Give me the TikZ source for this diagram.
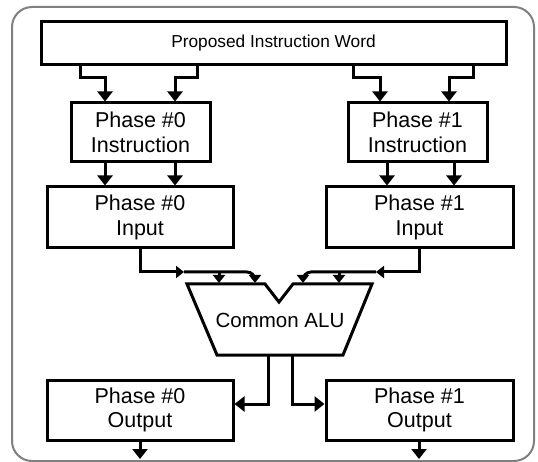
\documentclass[tikz,border=0pt]{standalone}
\usepackage{fontspec}
\setmainfont{Liberation Sans}
\usetikzlibrary{arrows.meta}
\tikzset{
  box/.style={draw=black, line width=3pt, fill=white, align=center, inner sep=0pt,
    font=\fontsize{21.5pt}{24.5pt}\selectfont},
  wire/.style={draw=black, line width=3pt},
  bigarr/.style={wire, -{Triangle[length=10pt,width=15pt]}},
  smallarr/.style={wire, -{Triangle[length=8pt,width=12pt]}},
  frame/.style={draw=black!50, line width=2pt, rounded corners=20pt}
}
\begin{document}
\begin{tikzpicture}[x=1pt,y=-1pt]
\useasboundingbox (0,0) rectangle (538,462);
\draw[frame] (12,7) rectangle (534,461);

% boxes
\node[box, minimum width=465pt, minimum height=43pt, font=\fontsize{17.3pt}{20pt}\selectfont] (top) at (273.5,43.5) {Proposed Instruction Word};
\node[box, minimum width=139pt, minimum height=59pt] (i0) at (140.5,132.5) {Phase \#0\\Instruction};
\node[box, minimum width=139pt, minimum height=59pt] (i1) at (417.5,132.5) {Phase \#1\\Instruction};
\node[box, minimum width=186pt, minimum height=61pt] (n0) at (140,217.5) {Phase \#0\\Input};
\node[box, minimum width=187pt, minimum height=61pt] (n1) at (419.5,217.5) {Phase \#1\\Input};
\node[box, minimum width=186pt, minimum height=60pt] (o0) at (140,410) {Phase \#0\\Output};
\node[box, minimum width=187pt, minimum height=60pt] (o1) at (419.5,410) {Phase \#1\\Output};

% ALU
\draw[wire, line join=miter] (187,284) -- (265,284) -- (279,302) -- (293,284) -- (372,284) -- (343,355) -- (217,355) -- cycle;
\node[font=\fontsize{20.5pt}{24pt}\selectfont, inner sep=0pt] (alu) at (280,320) {Common ALU};

% named junctions
\coordinate (aluL) at (268,355);
\coordinate (aluR) at (292,355);
\coordinate (jl) at (184,272);
\coordinate (jr) at (376,272);

% top to instruction boxes
\draw[bigarr] (80,0 |- top.south) |- (105,78) -- (105,0 |- i0.north);
\draw[bigarr] (197,0 |- top.south) |- (175,78) -- (175,0 |- i0.north);
\draw[bigarr] (353,0 |- top.south) |- (380,78) -- (380,0 |- i1.north);
\draw[bigarr] (473,0 |- top.south) |- (449,78) -- (449,0 |- i1.north);

% instruction to input
\draw[bigarr] (105,0 |- i0.south) -- (105,0 |- n0.north);
\draw[bigarr] (175,0 |- i0.south) -- (175,0 |- n0.north);
\draw[bigarr] (387,0 |- i1.south) -- (387,0 |- n1.north);
\draw[bigarr] (454,0 |- i1.south) -- (454,0 |- n1.north);

% input to ALU
\draw[smallarr] (140,0 |- n0.south) |- (jl);
\draw[smallarr, rounded corners=8pt] (jl) -- (255,272) -- (255,283);
\draw[smallarr] (219,272) -- (219,283);
\draw[smallarr] (419,0 |- n1.south) |- (jr);
\draw[smallarr, rounded corners=8pt] (jr) -- (303,272) -- (303,283);
\draw[smallarr] (339,272) -- (339,283);

% ALU to outputs
\draw[bigarr] (aluL) |- (o0.east |- 0,404);
\draw[bigarr] (aluR) |- (o1.west |- 0,404);

% outputs out
\draw[bigarr] (o0.south) -- (140,459);
\draw[bigarr] (419,0 |- o1.south) -- (419,459);
\end{tikzpicture}
\end{document}
